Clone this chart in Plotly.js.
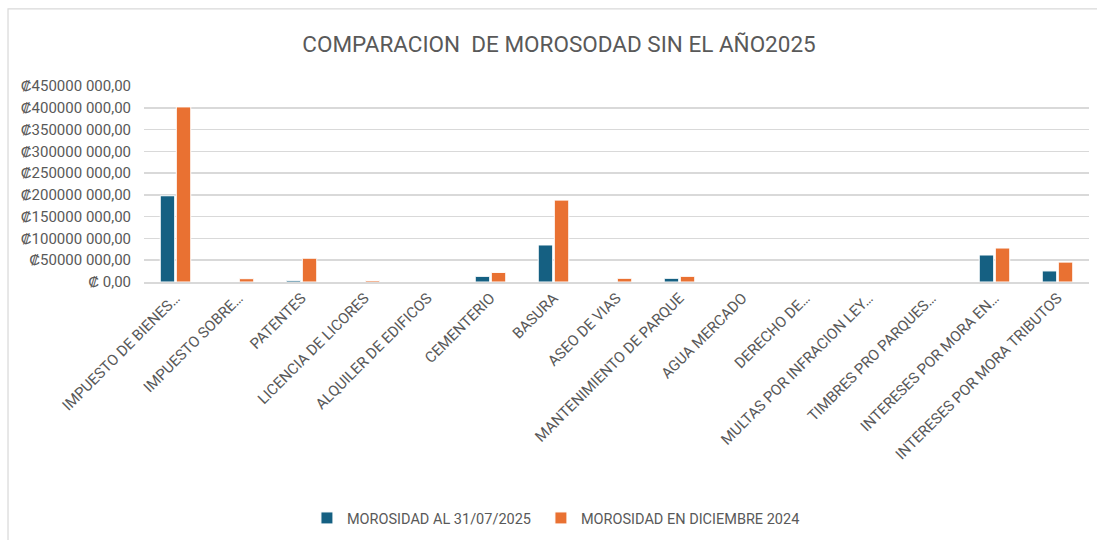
<!DOCTYPE html>
<html>
<head>
<meta charset="utf-8">
<script src="https://cdn.plot.ly/plotly-3.0.1.min.js"></script>
<style>
  html, body { margin: 0; padding: 0; background: #fff; }
  #chart { width: 1097px; height: 540px; }
</style>
</head>
<body>
<div id="chart"></div>
<script>
const categories = [
  "IMPUESTO DE BIENES…",
  "IMPUESTO SOBRE…",
  "PATENTES",
  "LICENCIA DE LICORES",
  "ALQUILER DE EDIFICOS",
  "CEMENTERIO",
  "BASURA",
  "ASEO DE VIAS",
  "MANTENIMIENTO DE PARQUE",
  "AGUA MERCADO",
  "DERECHO DE…",
  "MULTAS POR INFRACION LEY…",
  "TIMBRES PRO PARQUES…",
  "INTERESES POR MORA EN…",
  "INTERESES POR MORA TRIBUTOS"
];
const seriesNames = ["MOROSIDAD AL 31/07/2025", "MOROSIDAD EN DICIEMBRE 2024"];
const morosidadJul2025 = [198000000, 0, 3700000, 0, 0, 13000000, 85000000, 0, 8500000, 0, 0, 0, 0, 62000000, 25400000];
const morosidadDic2024 = [402000000, 7600000, 54600000, 3500000, 0, 22000000, 188000000, 8500000, 13000000, 0, 0, 0, 0, 78000000, 45700000];
const yTickVals = [0, 50000000, 100000000, 150000000, 200000000, 250000000, 300000000, 350000000, 400000000, 450000000];
const yTickText = ["₡ 0,00", "₡50000 000,00", "₡100000 000,00", "₡150000 000,00", "₡200000 000,00", "₡250000 000,00", "₡300000 000,00", "₡350000 000,00", "₡400000 000,00", "₡450000 000,00"];
const chartTitle = "COMPARACION  DE MOROSODAD SIN EL AÑO2025";

const FONT = "'Roboto', 'Liberation Sans', sans-serif";
const GREY = "#595959";

const traces = [
  {
    type: "bar", name: seriesNames[0], x: categories, y: morosidadJul2025, legend: "legend",
    marker: { color: "#156082", line: { color: "#ffffff", width: 1 } }
  },
  {
    type: "bar", name: seriesNames[1], x: categories, y: morosidadDic2024, legend: "legend2",
    marker: { color: "#E97132", line: { color: "#ffffff", width: 1 } }
  }
];

const legendBase = { orientation: "h", xanchor: "left", xref: "container", y: 0.0407, yanchor: "middle", yref: "container", font: { family: FONT, size: 14.5, color: GREY }, itemwidth: 30, bgcolor: "rgba(0,0,0,0)" };

const layout = {
  width: 1097, height: 540,
  paper_bgcolor: "#ffffff", plot_bgcolor: "#ffffff",
  margin: { l: 144, r: 8, t: 86, b: 258 },
  font: { family: FONT, color: GREY, size: 15 },
  title: { text: chartTitle, font: { family: FONT, size: 22.5, color: GREY }, x: 0.5096, xanchor: "center", xref: "container", y: 0.9185, yanchor: "middle", yref: "container" },
  barmode: "group", bargap: 0.49, bargroupgap: 0.1,
  showlegend: true,
  legend: Object.assign({}, legendBase, { x: 0.2798 }),
  legend2: Object.assign({}, legendBase, { x: 0.4931 }),
  xaxis: {
    type: "category", tickangle: -45, tickfont: { family: FONT, size: 15, color: GREY },
    showgrid: false, showline: true, linecolor: "#d9d9d9", linewidth: 1.5, ticks: "", automargin: false
  },
  yaxis: {
    range: [0, 450000000], tickvals: yTickVals, ticktext: yTickText,
    tickfont: { family: FONT, size: 15, color: GREY },
    showgrid: true, gridcolor: "#d9d9d9", gridwidth: 1.5, zeroline: false, showline: false,
    ticks: "", ticklen: 0, ticklabelstandoff: 12, automargin: false
  },
  shapes: [
    { type: "rect", xref: "paper", yref: "paper", x0: -0.1439, x1: 1.0116, y0: -1.345, y1: 1.3935, line: { color: "#d9d9d9", width: 1.2 } }
  ]
};

Plotly.newPlot("chart", traces, layout, { displayModeBar: false, staticPlot: true });
</script>
</body>
</html>
